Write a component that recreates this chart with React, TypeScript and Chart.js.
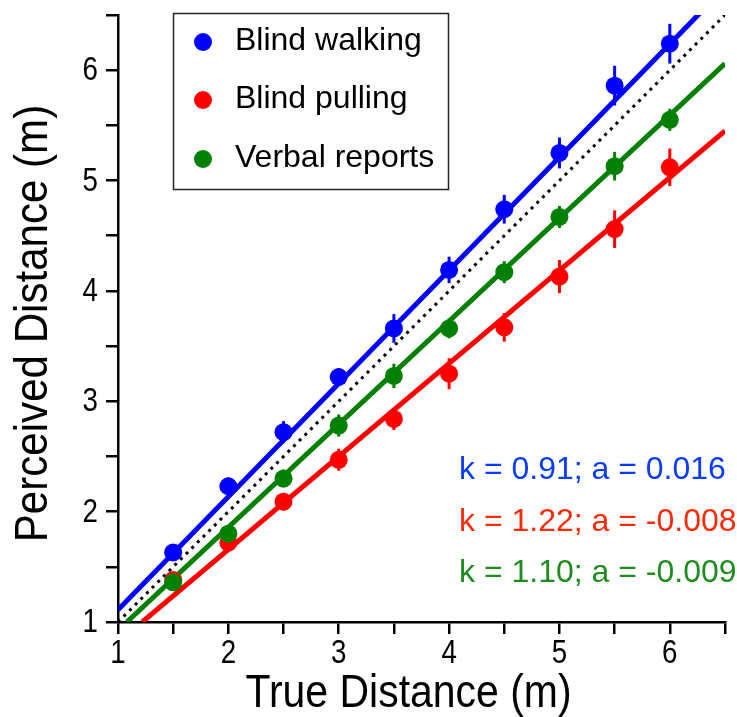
import React, { useEffect, useRef } from "react";
import { Chart, registerables } from "chart.js";

Chart.register(...registerables);

// ---- data ----
const trueDistance = [1.5, 2, 2.5, 3, 3.5, 4, 4.5, 5, 5.5, 6];
const blindWalking = [1.63, 2.23, 2.72, 3.22, 3.66, 4.19, 4.74, 5.25, 5.86, 6.24];
const blindWalkingErr = [0.07, 0.08, 0.1, 0.08, 0.13, 0.12, 0.13, 0.14, 0.18, 0.18];
const blindPulling = [1.38, 1.72, 2.09, 2.47, 2.84, 3.25, 3.67, 4.13, 4.56, 5.12];
const blindPullingErr = [0.06, 0.07, 0.08, 0.1, 0.1, 0.14, 0.13, 0.15, 0.17, 0.17];
const verbalReports = [1.36, 1.8, 2.3, 2.78, 3.23, 3.66, 4.17, 4.67, 5.13, 5.55];
const verbalReportsErr = [0.06, 0.07, 0.08, 0.1, 0.11, 0.09, 0.1, 0.1, 0.13, 0.1];

const fitWalkingX = [1, 6.5];
const fitWalkingY = [1.11, 6.75];
const fitPullingX = [1.22, 6.5];
const fitPullingY = [1, 5.45];
const fitVerbalX = [1.08, 6.5];
const fitVerbalY = [1, 6.06];
const identityX = [1, 6.5];
const identityY = [1, 6.5];

const seriesLabels = ["Blind walking", "Blind pulling", "Verbal reports"];
const fitLabels = ["k = 0.91; a = 0.016", "k = 1.22; a = -0.008", "k = 1.10; a = -0.009"];
const axisMin = 1;
const axisMax = 6.5;
const tickStep = 0.5;
const xTitle = "True Distance (m)";
const yTitle = "Perceived Distance (m)";

const seriesColors = ["#0000ff", "#ff0000", "#008000"];
const textColors = ["#0a3cff", "#ff2a0a", "#1e8c1e"];

const REGULAR = "'Liberation Sans', Arial, Helvetica, sans-serif";

const pts = (xs: number[], ys: number[]) => xs.map((x, i) => ({ x, y: ys[i] }));

const seriesValues = [blindWalking, blindPulling, verbalReports];
const seriesErrors = [blindWalkingErr, blindPullingErr, verbalReportsErr];

// condensed text helper (the original uses a condensed sans for axis text)
function condensedText(ctx: CanvasRenderingContext2D, text: string, x: number, y: number, sx: number, rot = 0) {
  ctx.save();
  ctx.translate(x, y);
  if (rot) ctx.rotate(rot);
  ctx.scale(sx, 1);
  ctx.fillText(text, 0, 0);
  ctx.restore();
}

const overlayPlugin = {
  id: "overlay",
  beforeDatasetsDraw(chart: any) {
    const { ctx, scales } = chart;
    const xs = scales.x;
    const ys = scales.y;
    ctx.save();
    ctx.lineWidth = 3;
    ctx.lineCap = "butt";
    [2, 1, 0].forEach((s) => {
      ctx.strokeStyle = seriesColors[s];
      trueDistance.forEach((t, i) => {
        const v = seriesValues[s][i];
        const e = seriesErrors[s][i];
        const px = xs.getPixelForValue(t);
        ctx.beginPath();
        ctx.moveTo(px, ys.getPixelForValue(v - e));
        ctx.lineTo(px, ys.getPixelForValue(v + e));
        ctx.stroke();
      });
    });
    ctx.restore();
  },
  afterDraw(chart: any) {
    const { ctx, scales, chartArea } = chart;
    const xs = scales.x;
    const ys = scales.y;
    ctx.save();
    ctx.fillStyle = "#000";
    // tick labels
    ctx.font = `33px ${REGULAR}`;
    ctx.textBaseline = "alphabetic";
    ctx.textAlign = "center";
    xs.ticks.forEach((t: any) => {
      if (!Number.isInteger(t.value)) return;
      condensedText(ctx, String(t.value), xs.getPixelForValue(t.value), chartArea.bottom + 41, 0.84);
    });
    ctx.textAlign = "right";
    ys.ticks.forEach((t: any) => {
      if (!Number.isInteger(t.value)) return;
      condensedText(ctx, String(t.value), chartArea.left - 20, ys.getPixelForValue(t.value) + 10, 0.84);
    });
    // axis titles
    ctx.font = `46px ${REGULAR}`;
    ctx.textAlign = "center";
    condensedText(ctx, xTitle, (chartArea.left + chartArea.right) / 2 - 13, 707, 0.89);
    condensedText(ctx, yTitle, 47, (chartArea.top + chartArea.bottom) / 2 + 5, 0.915, -Math.PI / 2);

    // legend box
    ctx.strokeStyle = "#222";
    ctx.lineWidth = 1.5;
    ctx.strokeRect(173.5, 13.5, 275, 176);
    const rowY = [42, 100, 159];
    ctx.font = `32px ${REGULAR}`;
    ctx.textAlign = "left";
    seriesLabels.forEach((lab, i) => {
      ctx.fillStyle = seriesColors[i];
      ctx.beginPath();
      ctx.arc(203, rowY[i], 9, 0, Math.PI * 2);
      ctx.fill();
      ctx.fillStyle = "#000";
      ctx.fillText(lab, 235, rowY[i] + 8);
    });
    // fit annotations
    const annY = [479, 531, 582];
    fitLabels.forEach((t, i) => {
      ctx.fillStyle = textColors[i];
      ctx.fillText(t, 459, annY[i]);
    });
    ctx.restore();
  },
};

export default function App() {
  const ref = useRef<HTMLCanvasElement>(null);
  useEffect(() => {
    document.body.style.margin = "0";
    const axisCommon = () => ({
      type: "linear",
      min: axisMin,
      max: axisMax,
      ticks: { stepSize: tickStep, autoSkip: false, display: false },
      grid: {
        display: true,
        drawOnChartArea: false,
        drawTicks: true,
        tickLength: 12,
        color: "#000",
        lineWidth: 2.5,
      },
      border: { display: true, color: "#000", width: 2.5 },
      title: { display: false },
    });
    const chart = new Chart(ref.current as HTMLCanvasElement, {
      type: "scatter",
      data: {
        datasets: [
          {
            label: seriesLabels[2],
            data: pts(trueDistance, verbalReports),
            backgroundColor: seriesColors[2],
            pointRadius: 9,
            pointBorderWidth: 0,
            order: 0,
          },
          {
            label: seriesLabels[1],
            data: pts(trueDistance, blindPulling),
            backgroundColor: seriesColors[1],
            pointRadius: 9,
            pointBorderWidth: 0,
            order: 1,
          },
          {
            label: seriesLabels[0],
            data: pts(trueDistance, blindWalking),
            backgroundColor: seriesColors[0],
            pointRadius: 9,
            pointBorderWidth: 0,
            order: 2,
          },
          {
            label: "fit walking",
            data: pts(fitWalkingX, fitWalkingY),
            showLine: true,
            borderColor: seriesColors[0],
            borderWidth: 5,
            pointRadius: 0,
            order: 3,
          },
          {
            label: "fit verbal",
            data: pts(fitVerbalX, fitVerbalY),
            showLine: true,
            borderColor: seriesColors[2],
            borderWidth: 5,
            pointRadius: 0,
            order: 4,
          },
          {
            label: "fit pulling",
            data: pts(fitPullingX, fitPullingY),
            showLine: true,
            borderColor: seriesColors[1],
            borderWidth: 5,
            pointRadius: 0,
            order: 5,
          },
          {
            label: "identity",
            data: pts(identityX, identityY),
            showLine: true,
            borderColor: "#000",
            borderWidth: 3,
            borderDash: [3, 5],
            pointRadius: 0,
            order: 6,
          },
        ],
      },
      options: {
        responsive: false,
        animation: false,
        events: [],
        layout: { padding: { top: 15, right: 12, bottom: 0, left: 0 } },
        plugins: { legend: { display: false }, tooltip: { enabled: false } },
        scales: {
          x: {
            ...axisCommon(),
            afterFit: (s: any) => {
              s.height = 95;
              s.paddingLeft = 0;
              s.paddingRight = 0;
            },
          },
          y: {
            ...axisCommon(),
            afterFit: (s: any) => {
              s.width = 118;
              s.paddingTop = 0;
              s.paddingBottom = 0;
            },
          },
        },
      },
      plugins: [overlayPlugin],
    } as any);
    return () => chart.destroy();
  }, []);
  return (
    <div style={{ width: 737, height: 717 }}>
      <canvas ref={ref} width={737} height={717} />
    </div>
  );
}
